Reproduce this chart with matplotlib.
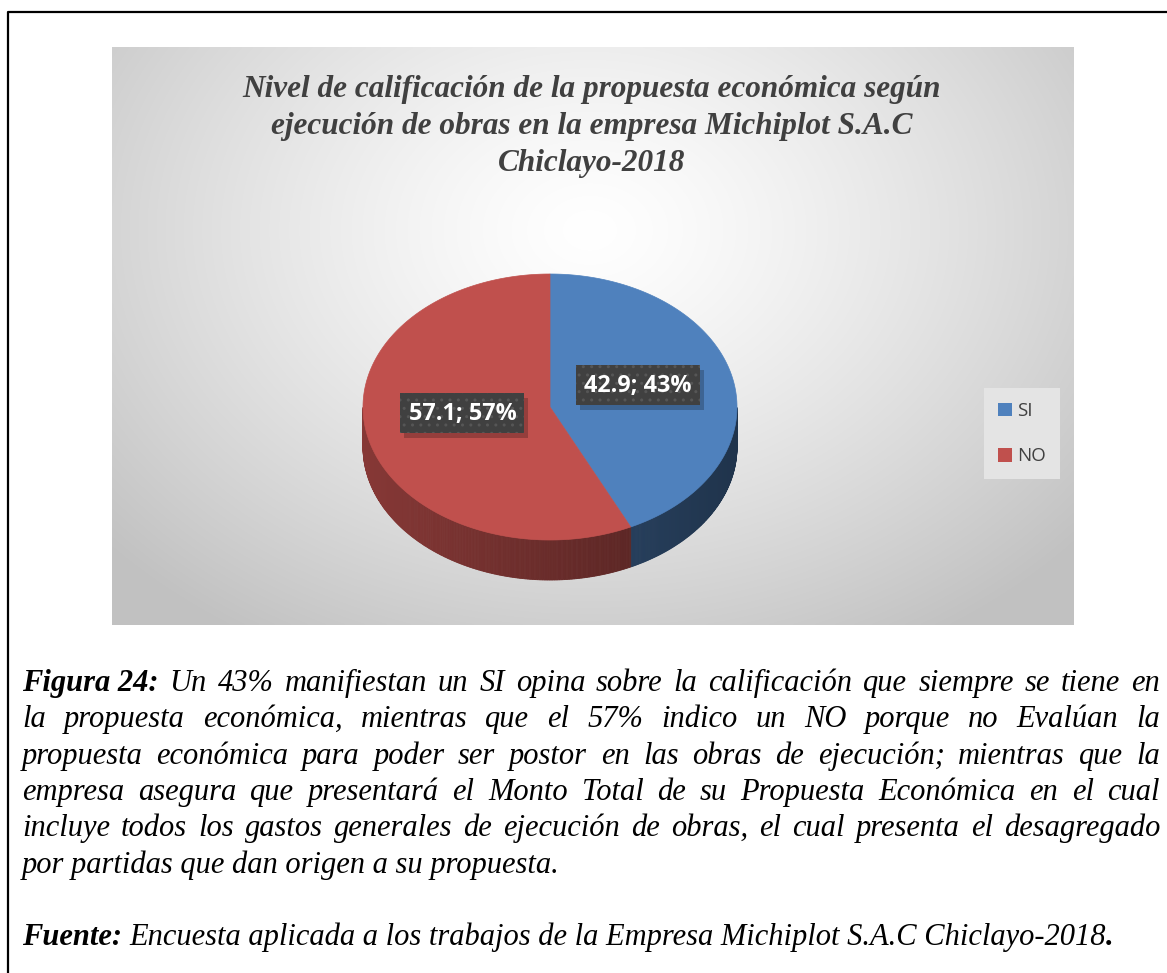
import numpy as np
import matplotlib
matplotlib.use("Agg")
import matplotlib.pyplot as plt
from matplotlib.patches import Polygon, Rectangle, Patch

# data
categories = ["SI", "NO"]
values = [42.9, 57.1]
percents = ["43%", "57%"]
top_colors = ["#4f81bd", "#c0504d"]

title_lines = ["Nivel de calificación de la propuesta económica según",
               "ejecución de obras en la empresa Michiplot S.A.C",
               "Chiclayo-2018"]

caption_lines = [
    [("Figura 24:", True), ("Un", False), ("43%", False), ("manifiestan", False), ("un", False), ("SI", False),
     ("opina", False), ("sobre", False), ("la", False), ("calificación", False), ("que", False), ("siempre", False),
     ("se", False), ("tiene", False), ("en", False)],
    "la propuesta económica, mientras que el 57% indico un NO porque no Evalúan la",
    "propuesta económica para poder ser postor en las obras de ejecución; mientras que la",
    "empresa asegura que presentará el Monto Total de su Propuesta Económica en el cual",
    "incluye todos los gastos generales de ejecución de obras, el cual presenta el desagregado",
]
last_line = "por partidas que dan origen a su propuesta."
source_text = "Encuesta aplicada a los trabajos de la Empresa Michiplot S.A.C Chiclayo-2018"

W, H = 1167, 973
fig = plt.figure(figsize=(W / 100, H / 100), dpi=100)
ax = fig.add_axes([0, 0, 1, 1])
ax.set_xlim(0, W)
ax.set_ylim(H, 0)
ax.axis("off")

# outer frame
ax.plot([8, 8, W + 5], [H + 5, 12, 12], color="black", lw=1.6, solid_capstyle="butt")

# chart area with radial gradient
x0, x1, y0, y1 = 112, 1074, 47, 625
gx, gy = np.meshgrid(np.linspace(x0, x1, 400), np.linspace(y0, y1, 250))
r = np.sqrt(((gx - 590) / 640) ** 2 + ((gy - 230) / 480) ** 2)
shade = 1 - 0.24 * np.clip(r, 0, 1.0) ** 1.3
ax.imshow(np.dstack([shade] * 3), extent=[x0, x1, y1, y0], interpolation="bilinear", zorder=0)

# title
for i, line in enumerate(title_lines):
    ax.text(592, 89 + i * 37.5, line, ha="center", va="center", fontsize=22.5, family="Liberation Serif",
            style="italic", weight="bold", color="#404040")

# 3D pie
cx, cy, rx, ry, depth = 550, 407, 187, 133, 40


def pt(phi, dy=0):
    p = np.radians(phi)
    return cx + rx * np.cos(p), cy - ry * np.sin(p) + dy


starts = []
a = 90.0
for v in values:
    span = 360 * v / sum(values)
    starts.append((a, a - span))
    a -= span

# side walls (front half only)
for (a0, a1), col in zip(starts, top_colors):
    base = np.array(matplotlib.colors.to_rgb(col))
    phis = np.sort(np.linspace(a1, a0, 400) % 360)
    for p0, p1 in zip(phis[:-1], phis[1:]):
        if p1 - p0 > 5:
            continue
        if not (180 <= p0 <= 360 and 180 <= p1 <= 360):
            continue
        f = 0.55 - 0.15 * np.cos(np.radians((p0 + p1) / 2))
        q = [pt(p0), pt(p1), pt(p1, depth), pt(p0, depth)]
        ax.add_patch(Polygon(q, closed=True, facecolor=base * f, edgecolor=base * f, lw=0.6, zorder=2))

# top faces
for (a0, a1), col in zip(starts, top_colors):
    arc = [pt(p) for p in np.linspace(a0, a1, 200)]
    ax.add_patch(Polygon([(cx, cy)] + arc, closed=True, facecolor=col, edgecolor=col, lw=0.5, zorder=3))

# data labels
for (a0, a1), v, pc in zip(starts, values, percents):
    mid = np.radians((a0 + a1) / 2)
    lx = cx + rx * 0.48 * np.cos(mid)
    ly = cy - ry * 0.48 * np.sin(mid) - 8
    bw, bh = 124, 40
    ax.add_patch(Rectangle((lx - bw / 2 + 4, ly - bh / 2 + 5), bw, bh, facecolor="#000000", alpha=0.22,
                           lw=0, zorder=4))
    ax.add_patch(Rectangle((lx - bw / 2, ly - bh / 2), bw, bh, facecolor="#404040", edgecolor="#565656",
                           hatch="..", lw=0, zorder=5))
    ax.text(lx, ly + 1, f"{v}; {pc}", ha="center", va="center", fontsize=16.8, family="Open Sans",
            weight="bold", color="white", zorder=6)

# legend
handles = [Patch(facecolor=c, edgecolor="none") for c in top_colors]
leg = fig.legend(handles, categories, loc="upper left", bbox_to_anchor=(984 / W, 1 - 388 / H),
                 borderaxespad=0, frameon=True, fancybox=False, facecolor="#e4e4e4", edgecolor="none",
                 framealpha=1, handlelength=0.75, handleheight=0.75, handletextpad=0.25, labelspacing=1.45,
                 borderpad=0.75, prop={"family": "Open Sans", "size": 13.5})
for t in leg.get_texts():
    t.set_color("#404040")

# caption (justified)
fig.canvas.draw()
renderer = fig.canvas.get_renderer()
left, right = 22, 1160
cap_size = 22


def word_text(x, y, s, bold):
    return ax.text(x, y, s, ha="left", va="baseline", fontsize=cap_size, family="Liberation Serif",
                   style="italic", weight="bold" if bold else "normal", color="black")


def width_px(t):
    return t.get_window_extent(renderer).width


probe1 = word_text(0, 500, "a a", False)
probe2 = word_text(0, 500, "aa", False)
space_w = width_px(probe1) - width_px(probe2)
probe1.remove()
probe2.remove()

base_y = 691
for i, line in enumerate(caption_lines):
    words = line if isinstance(line, list) else [(w, False) for w in line.split()]
    y = base_y + i * 36.3
    texts = [word_text(0, y, w, b) for w, b in words]
    widths = [width_px(t) for t in texts]
    gap = (right - left - sum(widths)) / (len(texts) - 1)
    x = left
    for t, wd in zip(texts, widths):
        t.set_x(x)
        x += wd + gap

word_text(left, base_y + 5 * 36.3, last_line, False)

fy = base_y + 6 * 36.3 + 36
t1 = word_text(left, fy, "Fuente:", True)
x = left + width_px(t1) + space_w
t2 = word_text(x, fy, source_text, False)
x += width_px(t2)
word_text(x, fy, ".", True)

fig.savefig("out.png", dpi=100)
